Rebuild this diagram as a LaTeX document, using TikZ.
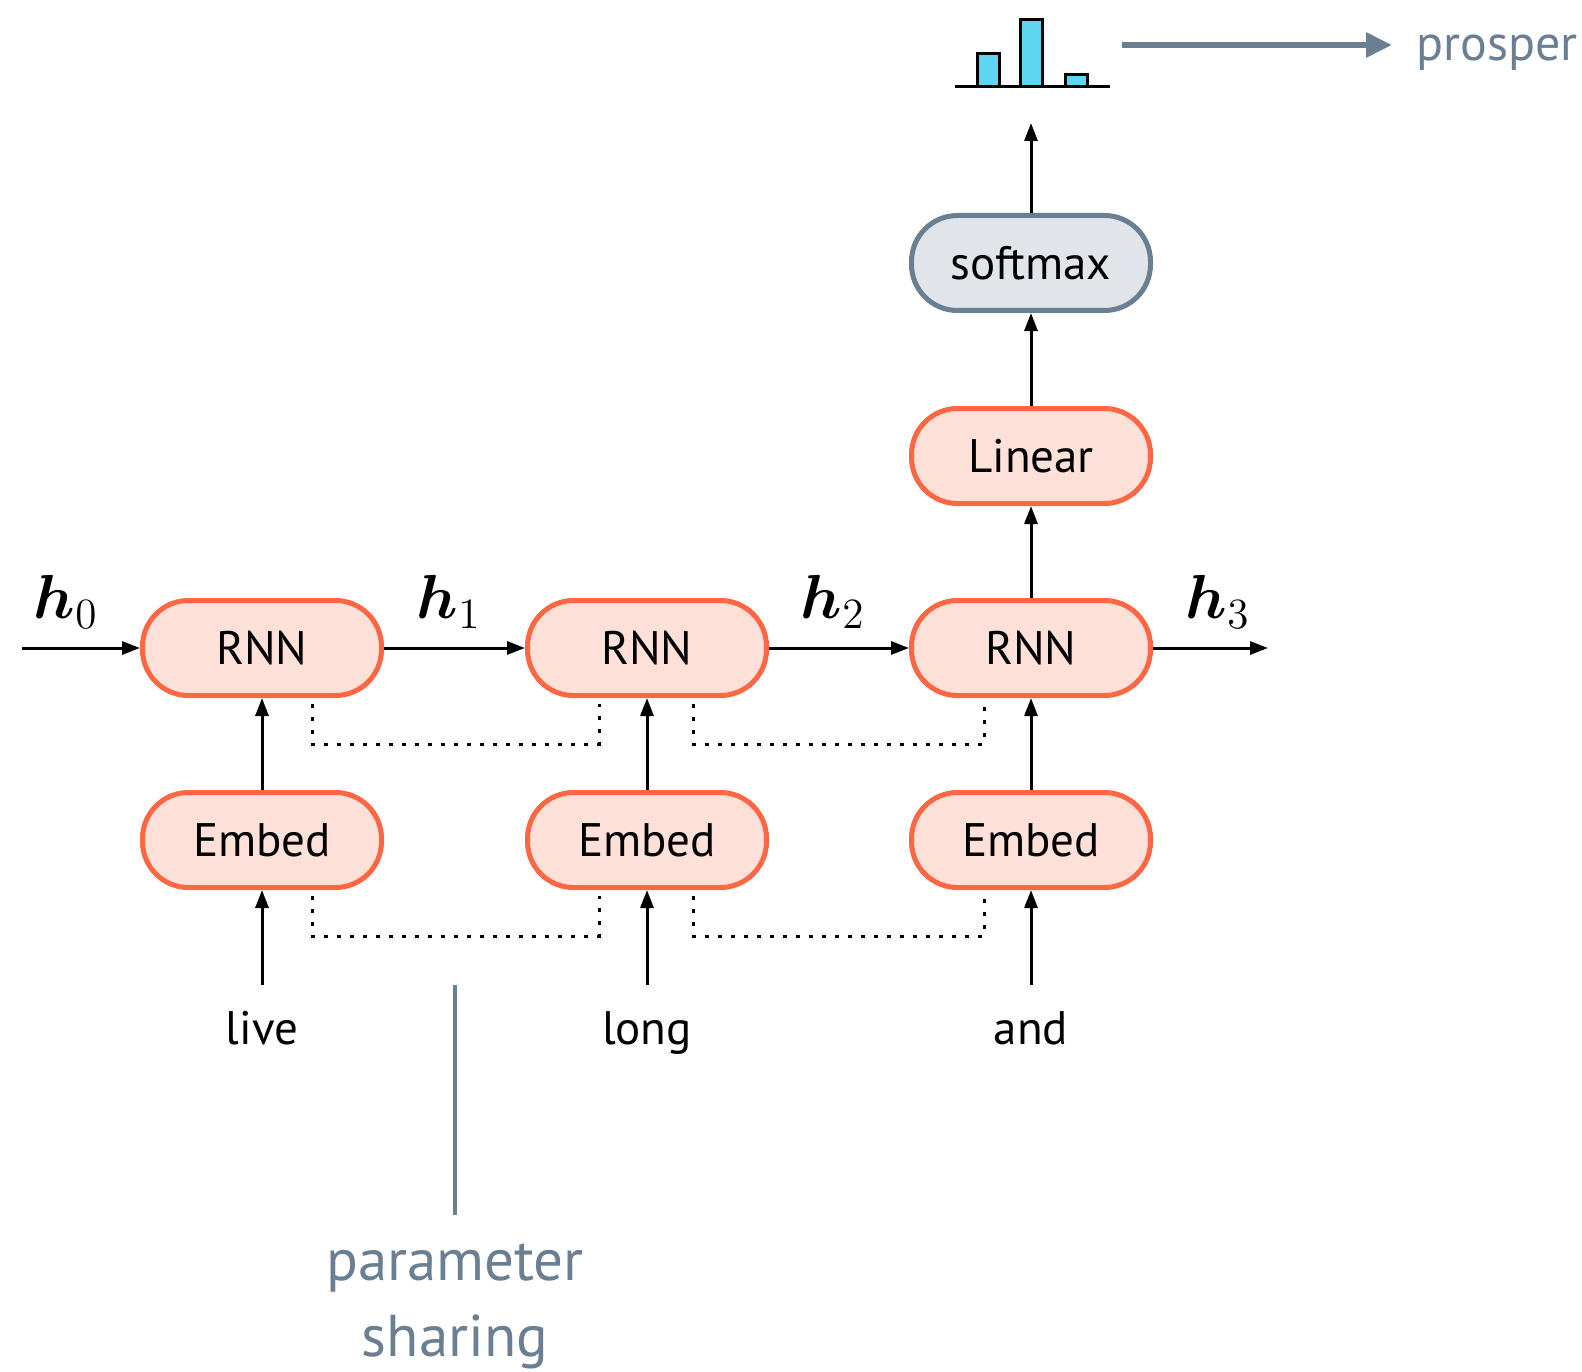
\documentclass[tikz,border=0pt]{standalone}
\usepackage{fontspec}
\setmainfont{PT Sans}
\usepackage{bm}
\usepackage{graphicx}
\usetikzlibrary{arrows.meta}
\definecolor{obord}{HTML}{FF6644}
\definecolor{ofill}{HTML}{FDE0D8}
\definecolor{gbord}{HTML}{6B7F92}
\definecolor{gfill}{HTML}{E1E4E9}
\definecolor{cyanbar}{HTML}{5ED6F0}
\newcommand{\hvec}[1]{\scalebox{3}{$\bm{h}_{#1}$}}
\tikzset{
  box/.style={draw=obord, fill=ofill, line width=5pt, rounded corners=46pt,
    minimum width=239pt, minimum height=95pt, font=\fontsize{47}{50}\selectfont, inner sep=0pt},
  gbox/.style={box, draw=gbord, fill=gfill},
  word/.style={font=\fontsize{47}{50}\selectfont, inner sep=0pt, anchor=base},
  arr/.style={line width=3pt, -{Triangle[length=18pt,width=13pt]}},
  dots/.style={line width=3pt, dash pattern=on 4pt off 9pt},
  hlab/.style={font=\fontsize{20.74}{24}\selectfont, inner sep=0pt},
  note/.style={text=gbord, font=\fontsize{59}{76}\selectfont, inner sep=0pt, align=center},
}
\begin{document}
\begin{tikzpicture}[x=1pt,y=-1pt]
\useasboundingbox (0,0) rectangle (1582,1372);
% nodes
\node[box] (rnn1) at (262,648) {RNN};
\node[box] (rnn2) at (647,648) {RNN};
\node[box] (rnn3) at (1031,648) {RNN};
\node[box] (emb1) at (262,840) {Embed};
\node[box] (emb2) at (647,840) {Embed};
\node[box] (emb3) at (1031,840) {Embed};
\node[box] (lin) at (1031,456) {Linear};
\node[gbox] (soft) at (1031,263) {softmax};
\node[word] (w1) at (262,1044) {live};
\node[word] (w2) at (647,1044) {long};
\node[word] (w3) at (1031,1044) {and};
% h labels
\node[hlab] (h0) at (66,602) {\hvec{0}};
\node[hlab] (h1) at (449,602) {\hvec{1}};
\node[hlab] (h2) at (833,602) {\hvec{2}};
\node[hlab] (h3) at (1218,602) {\hvec{3}};
\coordinate (hin) at (22,648);
\coordinate (hout) at (1268,648);
% recurrent arrows
\draw[arr] (hin) -- (rnn1.west);
\draw[arr] (rnn1.east) -- (rnn2.west);
\draw[arr] (rnn2.east) -- (rnn3.west);
\draw[arr] (rnn3.east) -- (hout);
% vertical arrows
\foreach \i in {1,2,3}{
  \draw[arr] ([yshift=59pt]w\i.base) -- (emb\i.south);
  \draw[arr] (emb\i.north) -- (rnn\i.south);
}
\draw[arr] (rnn3.north) -- (lin.south);
\draw[arr] (lin.north) -- (soft.south);
\coordinate (histtip) at (1031,123);
\draw[arr] (soft.north) -- (histtip);
% parameter sharing dotted lines
\draw[dots] ([xshift=50pt,yshift=-6pt]rnn1.south) |- ([xshift=-48pt,yshift=-46pt]rnn2.south) -- ([xshift=-48pt,yshift=-6pt]rnn2.south);
\draw[dots] ([xshift=46pt,yshift=-6pt]rnn2.south) |- ([xshift=-47pt,yshift=-46pt]rnn3.south) -- ([xshift=-47pt,yshift=-6pt]rnn3.south);
\draw[dots] ([xshift=50pt,yshift=-6pt]emb1.south) |- ([xshift=-48pt,yshift=-46pt]emb2.south) -- ([xshift=-48pt,yshift=-6pt]emb2.south);
\draw[dots] ([xshift=46pt,yshift=-6pt]emb2.south) |- ([xshift=-47pt,yshift=-46pt]emb3.south) -- ([xshift=-47pt,yshift=-6pt]emb3.south);
% parameter sharing label
\node[note] (ps) at (455,1306) {parameter\\sharing};
\coordinate (pstop) at (455,985);
\draw[gbord, line width=4pt] (pstop) -- ([yshift=28pt]ps.north);
% histogram
\draw[fill=cyanbar, line width=3pt] (977,87) rectangle (999,54);
\draw[fill=cyanbar, line width=3pt] (1020,87) rectangle (1042,20);
\draw[fill=cyanbar, line width=3pt] (1065,87) rectangle (1087,75);
\draw[line width=3pt] (955,87) -- (1110,87);
% prosper
\node[text=gbord, font=\fontsize{50}{55}\selectfont, inner sep=0pt, anchor=base west] (pros) at (1416,61) {prosper};
\coordinate (histout) at (1122,45);
\coordinate (prosin) at (1392,45);
\draw[gbord, line width=6pt, -{Triangle[length=26pt,width=24pt]}] (histout) -- (prosin);
\end{tikzpicture}
\end{document}
